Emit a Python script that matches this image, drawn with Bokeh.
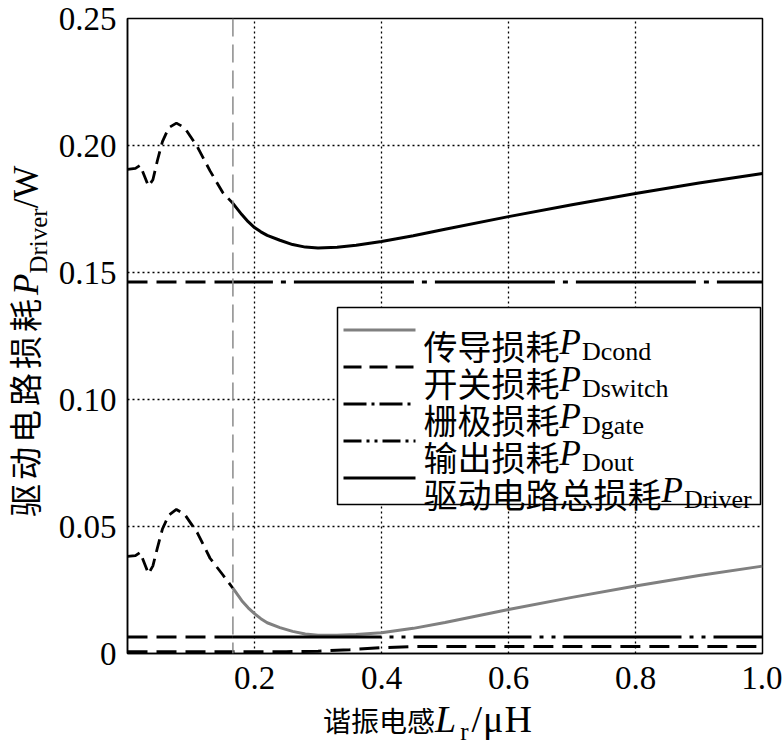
from bokeh.plotting import figure
from bokeh.layouts import row, column
from bokeh.models import (Range1d, FixedTicker, CustomJSTickFormatter, Span, Label,
                          BoxAnnotation, Arrow, Div)
from bokeh.embed import file_html
from bokeh.resources import INLINE

# ---------------- data ----------------
lr = [0.0, 0.0125, 0.02, 0.033, 0.04, 0.047, 0.055, 0.065, 0.077, 0.09, 0.11, 0.13, 0.15, 0.166,
      0.18, 0.19, 0.2, 0.21, 0.22, 0.24, 0.26, 0.28, 0.3, 0.33, 0.36, 0.4, 0.45, 0.5,
      0.6, 0.7, 0.8, 0.9, 1.0]
p_cond = [0.0382, 0.0385, 0.0398, 0.0314, 0.0345, 0.0415, 0.049, 0.0545, 0.0567, 0.0548, 0.0475,
          0.0375, 0.031, 0.0257,
          0.0208, 0.0180, 0.0157, 0.0137, 0.0121, 0.0102, 0.0087, 0.0077, 0.0072, 0.0072,
          0.0075, 0.0082, 0.0099, 0.0122,
          0.0173, 0.0221, 0.0266, 0.0307, 0.0344]
p_total = [0.1906, 0.191, 0.1922, 0.184, 0.1865, 0.194, 0.2015, 0.207, 0.2088, 0.207, 0.1995,
           0.19, 0.1815, 0.1772,
           0.1728, 0.1700, 0.1677, 0.1660, 0.1646, 0.1627, 0.1610, 0.1600, 0.1596, 0.1599,
           0.1607, 0.1622, 0.1645, 0.1670,
           0.1720, 0.1767, 0.1811, 0.1852, 0.1890]
lr_switch = [0.0, 0.25, 0.3, 0.35, 0.4, 0.45, 0.5, 1.0]
p_switch = [0.0007, 0.0007, 0.0009, 0.0015, 0.0023, 0.0027, 0.0028, 0.0028]
p_gate = 0.1463
p_out = 0.0065
lr_zvs = 0.166          # boundary of the dashed (non-ZVS) region
lr_out_solid = 0.4
x_min, x_max = 0.0, 1.0
y_min, y_max = 0.0, 0.25
x_ticks = [0.2, 0.4, 0.6, 0.8, 1.0]
y_ticks = [0.0, 0.05, 0.10, 0.15, 0.20, 0.25]
x_grid = [0.2, 0.4, 0.6, 0.8]
y_grid = [0.05, 0.10, 0.15, 0.20]

legend_names = ["传导损耗", "开关损耗", "栅极损耗", "输出损耗", "驱动电路总损耗"]
legend_subs = ["Dcond", "Dswitch", "Dgate", "Dout", "Driver"]

CJK = "Noto Sans CJK SC"
SER = "Liberation Serif"
GRAY = "#808080"

YLAB_W = 55
p = figure(frame_width=635, frame_height=635, x_range=Range1d(x_min, x_max),
           y_range=Range1d(y_min, y_max), output_backend="svg", toolbar_location=None,
           min_border_left=72, min_border_right=20, min_border_top=18, min_border_bottom=50)
p.background_fill_color = "white"
p.border_fill_color = "white"
p.outline_line_color = "black"
p.outline_line_width = 1.5
p.outline_line_alpha = 1.0

# grid
p.xgrid.ticker = FixedTicker(ticks=x_grid)
p.ygrid.ticker = FixedTicker(ticks=y_grid)
for g in (p.xgrid, p.ygrid):
    g.grid_line_color = "black"
    g.grid_line_dash = "2 3"
    g.grid_line_width = 1.3
    g.grid_line_alpha = 1.0

# axes
p.xaxis.ticker = FixedTicker(ticks=x_ticks)
p.yaxis.ticker = FixedTicker(ticks=y_ticks)
p.xaxis.formatter = CustomJSTickFormatter(code="return tick.toFixed(1);")
p.yaxis.formatter = CustomJSTickFormatter(code="return Math.abs(tick) < 1e-9 ? '0' : tick.toFixed(2);")
for ax in (p.xaxis, p.yaxis):
    ax.major_label_text_font = SER
    ax.major_label_text_font_size = "33px"
    ax.major_label_text_color = "black"
    ax.major_tick_line_color = None
    ax.minor_tick_line_color = None
    ax.axis_line_color = "black"
    ax.axis_line_width = 1.5
p.xaxis.major_label_standoff = 7
p.yaxis.major_label_standoff = 5

# boundary line
p.add_layout(Span(location=lr_zvs, dimension="height", line_color="#8a8a8a",
                  line_width=1.5, line_dash="18 8"))

# curves
ib = lr.index(lr_zvs)
p.line(lr[:ib + 1], p_cond[:ib + 1], line_color="black", line_width=2.8, line_dash="13 7")
p.line(lr[ib:], p_cond[ib:], line_color=GRAY, line_width=3)
p.line(lr[:ib + 1], p_total[:ib + 1], line_color="black", line_width=2.8, line_dash="13 7")
p.line(lr[ib:], p_total[ib:], line_color="black", line_width=3)

# switching loss (near zero)
p.line(lr_switch, p_switch, line_color="black", line_width=3, line_dash="20 9")

# gate loss
p.line([x_min, lr_zvs], [p_gate, p_gate], line_color="black", line_width=3, line_dash="20 9")
p.line([lr_zvs, x_max], [p_gate, p_gate], line_color="black", line_width=3,
       line_dash="120 8 5 8", line_dash_offset=80)

# output loss
p.line([x_min, lr_zvs], [p_out, p_out], line_color="black", line_width=3, line_dash="20 9")
p.line([lr_zvs, lr_out_solid], [p_out, p_out], line_color="black", line_width=3)
p.line([lr_out_solid, x_max], [p_out, p_out], line_color="black", line_width=3,
       line_dash="118 8 4 8 4 8", line_dash_offset=118)

# ---------------- legend (manual, inside the frame) ----------------
SER_W = {'P': .611}


def place(pieces, x0, y0):
    adv = 0.0
    for text, font, size, style, drop, gap in pieces:
        adv += gap
        p.add_layout(Label(x=x0 + adv, y=y0 - drop, x_units="screen", y_units="screen",
                           text=text, text_font=font, text_font_size=f"{size}px",
                           text_font_style=style, text_baseline="alphabetic",
                           text_align="left", text_color="black"))
        if font == CJK:
            adv += len(text) * size
        else:
            adv += sum(SER_W.get(ch, .5) for ch in text) * size


box_l, box_r, box_b, box_t = 210, 633, 149, 346
p.add_layout(BoxAnnotation(left=box_l, right=box_r, bottom=box_b, top=box_t,
                           left_units="screen", right_units="screen",
                           bottom_units="screen", top_units="screen",
                           fill_color="white", fill_alpha=1.0,
                           line_color="black", line_width=1.5, line_alpha=1.0))
leg_styles = [(GRAY, None), ("black", "18 8"), ("black", "23 5 3 5"),
              ("black", "18 5 3 5 3 5"), ("black", None)]
row_h = 37
for i, (name, sub) in enumerate(zip(legend_names, legend_subs)):
    c = box_t - 6 - row_h / 2 - row_h * i
    col, dash = leg_styles[i]
    kw = dict(line_dash=dash) if dash else {}
    p.add_layout(Arrow(x_start=box_l + 6, y_start=c + 2, x_end=box_l + 78, y_end=c + 2,
                       start_units="screen", end_units="screen", start=None, end=None,
                       line_color=col, line_width=3, **kw))
    place([(name, CJK, 34, "normal", 13, 0),
           ("P", SER, 35, "italic", 10, 0),
           (sub, SER, 26, "normal", 19, 1)], box_l + 86, c)

# ---------------- axis titles (HTML, with subscripts) ----------------
ylab_html = (
    "<div style=\"position:relative; left:8px; top:517px; width:max-content; white-space:nowrap;"
    " transform:rotate(-90deg); transform-origin:0 0; line-height:1;"
    " font-family:'Liberation Serif'; font-size:35px; color:black;\">"
    "<span style=\"font-family:'Noto Sans CJK SC'; font-size:33px; letter-spacing:4px;\">驱动电路损耗</span>"
    "<i>P</i><span style=\"font-size:25px; position:relative; top:9px;\">Driver</span>/W"
    "</div>")
xlab_html = (
    "<div style=\"position:relative; left:268px; top:-3px; width:max-content; white-space:nowrap;"
    " line-height:1; font-family:'Liberation Serif'; font-size:38px; color:black;\">"
    "<span style=\"font-family:'Noto Sans CJK SC'; font-size:28px;\">谐振电感</span>"
    "<i>L</i><span style=\"font-size:25px; position:relative; top:8px; margin-left:4px;\">r</span>"
    "<span style=\"margin-left:3px; letter-spacing:1px;\">/μH</span>"
    "</div>")

ylab = Div(text=ylab_html, width=YLAB_W, height=744, margin=(0, 0, 0, 0),
           styles={"margin": "0", "padding": "0", "overflow": "visible"})
xlab = Div(text=xlab_html, width=727, height=41, margin=(0, 0, 0, 0),
           styles={"margin": "0", "padding": "0", "overflow": "visible"})

root = row(ylab, column(p, xlab, spacing=0), spacing=0)
open("out.html", "w").write(file_html(root, INLINE))
